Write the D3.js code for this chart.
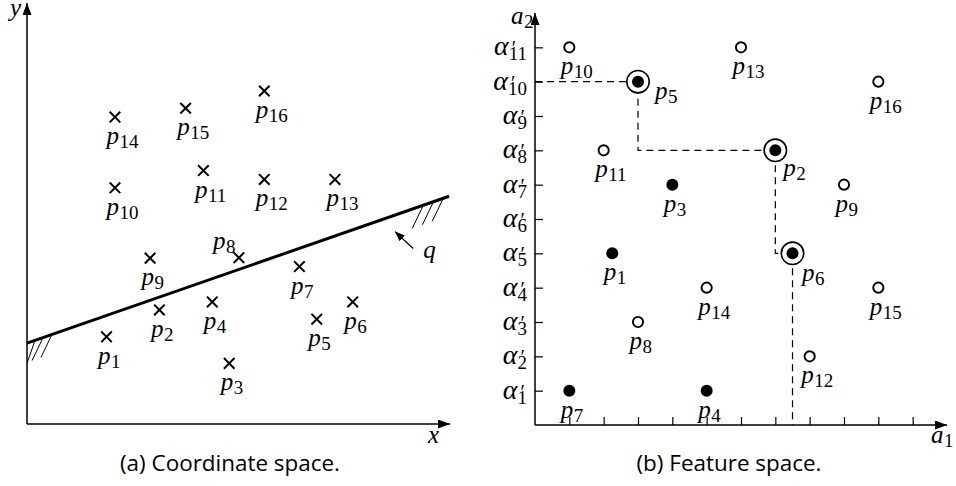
<!DOCTYPE html>
<html><head><meta charset="utf-8">
<script src="https://cdn.jsdelivr.net/npm/d3@7"></script>
<style>
body{margin:0;background:#fff} svg{display:block}
.math{font-family:"Liberation Serif","DejaVu Serif",serif;}
.cap{font-family:"Open Sans","Noto Sans",sans-serif;}
</style>
</head><body>
<svg id="chart" width="956" height="486"></svg>
<script>
// ---------------- data ----------------
const pointNames = ["p1","p2","p3","p4","p5","p6","p7","p8","p9","p10","p11","p12","p13","p14","p15","p16"];
// (a) coordinate space
const coordX = [1.88, 3.13, 4.78, 4.38, 6.85, 7.70, 6.44, 5.01, 2.91, 2.08, 4.17, 5.61, 7.28, 2.08, 3.75, 5.61];
const coordY = [2.07, 2.71, 1.44, 2.90, 2.49, 2.90, 3.74, 3.95, 3.94, 5.61, 6.02, 5.81, 5.81, 7.29, 7.50, 7.91];
const qLineX = [0, 9.98];
const qLineY = [1.92, 5.41];
const hatchX = [0.19, 0.38, 0.59, 9.37, 9.61, 9.84];
const qArrowFrom = [9.13, 4.17];
const qArrowTo = [8.70, 4.57];
// (b) feature space
const featA1 = [2.25, 7, 4, 5, 3, 7.5, 1, 3, 9, 1, 2, 8, 6, 5, 10, 10];
const featA2 = [5, 8, 7, 1, 10, 5, 1, 3, 7, 11, 8, 2, 11, 4, 4, 10];
const featKind = ["filled","skyline","filled","filled","skyline","skyline","filled","open",
                  "open","open","open","open","open","open","open","open"];
const skylineOrder = ["p5","p2","p6"];
const a1Ticks = [1,2,3,4,5,6,7,8,9,10,11];
const a2Ticks = [1,2,3,4,5,6,7,8,9,10,11];
const a2TickLabels = ["1","2","3","4","5","6","7","8","9","10","11"];
const captions = ["(a) Coordinate space.", "(b) Feature space."];

// ---------------- styles ----------------
const labelOffsetL = {default:[-8.5, 27], p8:[-26, -9]};
const labelOffsetR = {default:[-8.5, 27], p5:[17, 17], p2:[8, 26], p6:[9.5, 28]};

const svg = d3.select("#chart");
const defs = svg.append("defs");
defs.append("marker").attr("id","arrow").attr("viewBox","0 0 12 9")
  .attr("refX",12).attr("refY",4.5).attr("markerWidth",12).attr("markerHeight",9)
  .attr("markerUnits","userSpaceOnUse").attr("orient","auto")
  .append("path").attr("d","M0,0 L12,4.5 L0,9 Z").attr("fill","#000");
defs.append("marker").attr("id","arrowS").attr("viewBox","0 0 10 8")
  .attr("refX",10).attr("refY",4).attr("markerWidth",10).attr("markerHeight",8)
  .attr("markerUnits","userSpaceOnUse").attr("orient","auto")
  .append("path").attr("d","M0,0 L10,4 L0,8 Z").attr("fill","#000");

function mathLabel(g, x, y, main, sub) {
  const t = g.append("text").attr("class","math").attr("x", x).attr("y", y).attr("fill","#000");
  t.append("tspan").attr("font-style","italic").attr("font-size",25).text(main);
  if (sub) t.append("tspan").attr("font-size",19).attr("dy",4).attr("dx",0.5).text(sub);
  return t;
}

// ---------------- (a) coordinate space ----------------
const xL = d3.scaleLinear().domain([0,10]).range([27,450]);
const yL = d3.scaleLinear().domain([0,10]).range([424,3]);
const qY = d3.scaleLinear().domain(qLineX).range(qLineY);
const gL = svg.append("g");

gL.selectAll("line.hatch").data(hatchX).join("line").attr("class","hatch")
  .attr("x1", d => xL(d)).attr("y1", d => yL(qY(d)))
  .attr("x2", d => Math.max(xL(0), xL(d) - 11)).attr("y2", d => yL(qY(d)) + 23)
  .attr("stroke","#000").attr("stroke-width",1);

gL.append("line").attr("x1", xL(0)).attr("y1", yL(0)).attr("x2", xL(0)).attr("y2", yL(10))
  .attr("stroke","#000").attr("stroke-width",1.5).attr("marker-end","url(#arrow)");
gL.append("line").attr("x1", xL(0)).attr("y1", yL(0)).attr("x2", xL(10)).attr("y2", yL(0))
  .attr("stroke","#000").attr("stroke-width",1.5).attr("marker-end","url(#arrow)");
mathLabel(gL, xL(0) - 17, yL(10) + 13, "y");
mathLabel(gL, xL(10) - 22, yL(0) + 19, "x");

gL.append("line").attr("x1", xL(qLineX[0])).attr("y1", yL(qLineY[0]))
  .attr("x2", xL(qLineX[1])).attr("y2", yL(qLineY[1]))
  .attr("stroke","#000").attr("stroke-width",3);
gL.append("line").attr("x1", xL(qArrowFrom[0])).attr("y1", yL(qArrowFrom[1]))
  .attr("x2", xL(qArrowTo[0])).attr("y2", yL(qArrowTo[1]))
  .attr("stroke","#000").attr("stroke-width",1.3).attr("marker-end","url(#arrowS)");
mathLabel(gL, xL(qArrowFrom[0]) + 10, yL(qArrowFrom[1]) + 10, "q");

const crossData = pointNames.map((n,i) => ({name:n, x:coordX[i], y:coordY[i]}));
gL.selectAll("path.cross").data(crossData).join("path").attr("class","cross")
  .attr("transform", d => `translate(${xL(d.x)},${yL(d.y)})`)
  .attr("d","M-5.3,-5.3L5.3,5.3M-5.3,5.3L5.3,-5.3")
  .attr("stroke","#000").attr("stroke-width",2).attr("fill","none");
crossData.forEach(d => {
  const off = labelOffsetL[d.name] || labelOffsetL.default;
  mathLabel(gL, xL(d.x) + off[0], yL(d.y) + off[1], "p", d.name.slice(1));
});

// ---------------- (b) feature space ----------------
const xR = d3.scaleLinear().domain([0,12]).range([535,947]);
const yR = d3.scaleLinear().domain([0,12]).range([425,13]);
const gR = svg.append("g");

const yAx = gR.append("g").attr("transform",`translate(${xR(0)},0)`)
  .call(d3.axisRight(yR).tickValues(a2Ticks).tickSize(8).tickSizeOuter(0).tickFormat(""));
const xAx = gR.append("g").attr("transform",`translate(0,${yR(0)})`)
  .call(d3.axisTop(xR).tickValues(a1Ticks).tickSize(8).tickSizeOuter(0).tickFormat(""));
[yAx, xAx].forEach(a => { a.select(".domain").remove(); a.selectAll(".tick line").attr("stroke","#000").attr("stroke-width",1.2); });

gR.append("line").attr("x1", xR(0)).attr("y1", yR(0)).attr("x2", xR(0)).attr("y2", yR(12))
  .attr("stroke","#000").attr("stroke-width",1.5).attr("marker-end","url(#arrow)");
gR.append("line").attr("x1", xR(0)).attr("y1", yR(0)).attr("x2", xR(12)).attr("y2", yR(0))
  .attr("stroke","#000").attr("stroke-width",1.5).attr("marker-end","url(#arrow)");
mathLabel(gR, xR(0) - 24, yR(12) + 11, "a", "2");
mathLabel(gR, xR(12) - 16, yR(0) + 18, "a", "1");

a2Ticks.forEach((v,i) => {
  const ty = yR(v), xe = xR(0) - 8;
  const sub = gR.append("text").attr("class","math").attr("x", xe).attr("y", ty + 13).attr("text-anchor","end")
    .attr("font-size",19).text(a2TickLabels[i]);
  const w = sub.node().getComputedTextLength();
  gR.append("text").attr("class","math").attr("x", xe - w).attr("y", ty + 8).attr("text-anchor","end")
    .attr("font-style","italic").attr("font-size",28).text("α");
  gR.append("text").attr("class","math").attr("x", xe - w + 3).attr("y", ty + 8).attr("text-anchor","start")
    .attr("font-size",20).text("′");
});

const featData = pointNames.map((n,i) => ({name:n, a1:featA1[i], a2:featA2[i], kind:featKind[i]}));
const sky = skylineOrder.map(n => featData.find(d => d.name === n));
const stair = [[0, sky[0].a2]];
sky.forEach((d,i) => {
  stair.push([d.a1, d.a2]);
  stair.push([d.a1, i < sky.length - 1 ? sky[i+1].a2 : 0]);
});
gR.append("path").attr("d", d3.line().x(d => xR(d[0])).y(d => yR(d[1]))(stair))
  .attr("fill","none").attr("stroke","#000").attr("stroke-width",1.2).attr("stroke-dasharray","7,5");

featData.forEach(d => {
  const cx = xR(d.a1), cy = yR(d.a2);
  if (d.kind === "open") {
    gR.append("circle").attr("cx",cx).attr("cy",cy).attr("r",5.1)
      .attr("fill","#fff").attr("stroke","#000").attr("stroke-width",1.9);
  } else if (d.kind === "filled") {
    gR.append("circle").attr("cx",cx).attr("cy",cy).attr("r",6).attr("fill","#000");
  } else {
    gR.append("circle").attr("cx",cx).attr("cy",cy).attr("r",11.2)
      .attr("fill","#fff").attr("stroke","#000").attr("stroke-width",1.6);
    gR.append("circle").attr("cx",cx).attr("cy",cy).attr("r",6).attr("fill","#000");
  }
  const off = labelOffsetR[d.name] || labelOffsetR.default;
  mathLabel(gR, cx + off[0], cy + off[1], "p", d.name.slice(1));
});

[[230, captions[0], 220], [729, captions[1], 185]].forEach(([cx, txt, len]) => {
  svg.append("text").attr("class","cap").attr("x", cx).attr("y", 471).attr("text-anchor","middle")
    .attr("font-size",21)
    .attr("textLength", len).attr("lengthAdjust","spacingAndGlyphs").text(txt);
});
</script>
</body></html>
